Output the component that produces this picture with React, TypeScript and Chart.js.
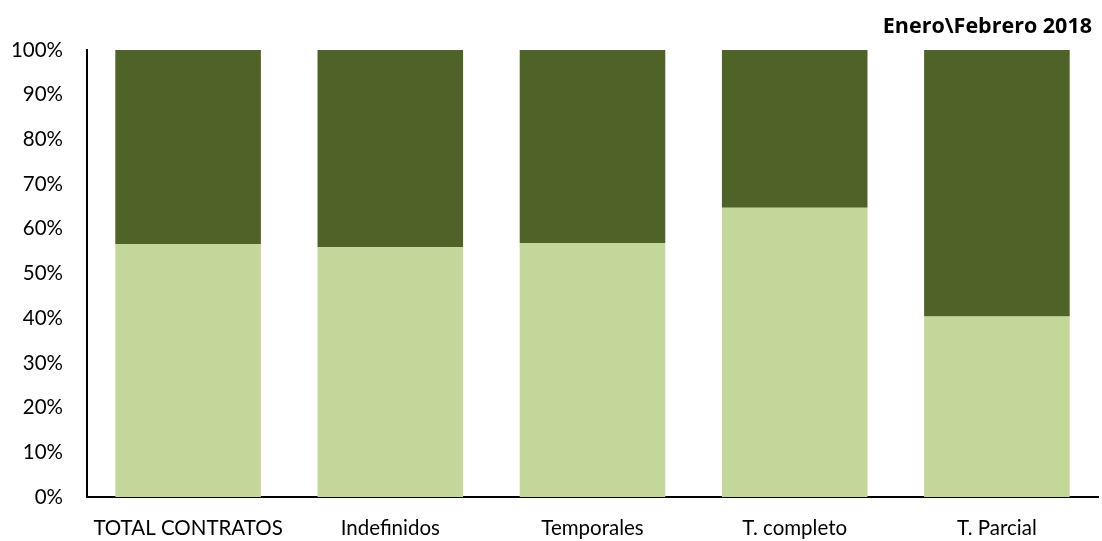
import React, { useEffect, useRef } from "react";
import { Chart, registerables } from "chart.js";

Chart.register(...registerables);

const categories = ["TOTAL CONTRATOS", "Indefinidos", "Temporales", "T. completo", "T. Parcial"];
const seriesLight = [56.6, 55.9, 56.8, 64.7, 40.4];
const seriesDark = seriesLight.map((v) => 100 - v);
const titleText = "Enero\\Febrero 2018";

const FONT = "Lato, 'Open Sans', sans-serif";

export default function App() {
  const ref = useRef<HTMLCanvasElement | null>(null);
  useEffect(() => {
    if (!ref.current) return;
    const titlePlugin = {
      id: "cornerTitle",
      afterDraw(chart: any) {
        const ctx = chart.ctx;
        ctx.save();
        ctx.font = `bold 21.5px 'Open Sans', sans-serif`;
        ctx.fillStyle = "#000";
        ctx.textAlign = "right";
        ctx.textBaseline = "middle";
        ctx.fillText(titleText, chart.chartArea.right - 6, 27);
        ctx.restore();
      },
    };
    const chart = new Chart(ref.current, {
      type: "bar",
      data: {
        labels: categories,
        datasets: [
          { label: "A", data: seriesLight, backgroundColor: "#c4d79b", barPercentage: 0.72, categoryPercentage: 1 },
          { label: "B", data: seriesDark, backgroundColor: "#4f6228", barPercentage: 0.72, categoryPercentage: 1 },
        ],
      },
      options: {
        animation: false,
        responsive: false,
        layout: { padding: { top: 50, right: 4, left: 0, bottom: 0 } },
        plugins: { legend: { display: false }, tooltip: { enabled: false }, title: { display: false } },
        scales: {
          x: {
            stacked: true,
            grid: { display: false, drawTicks: false },
            border: { display: true, color: "#000", width: 2 },
            ticks: { color: "#000", font: { family: FONT, size: 20.5 }, padding: 19, maxRotation: 0 },
            afterFit(scale: any) { scale.height = 44; },
          },
          y: {
            stacked: true,
            min: 0,
            max: 100,
            grid: { display: false, drawTicks: false },
            border: { display: true, color: "#000", width: 2 },
            ticks: {
              stepSize: 10,
              color: "#000",
              padding: 24,
              font: { family: FONT, size: 20.5 },
              callback: (v: any) => `${v}%`,
            },
            afterFit(scale: any) { scale.width = 87; },
          },
        },
      },
      plugins: [titlePlugin],
    });
    return () => chart.destroy();
  }, []);
  return (
    <div style={{ position: "fixed", left: 0, top: 0, width: 1102, height: 541, background: "#fff" }}>
      <canvas ref={ref} width={1102} height={541} />
    </div>
  );
}
